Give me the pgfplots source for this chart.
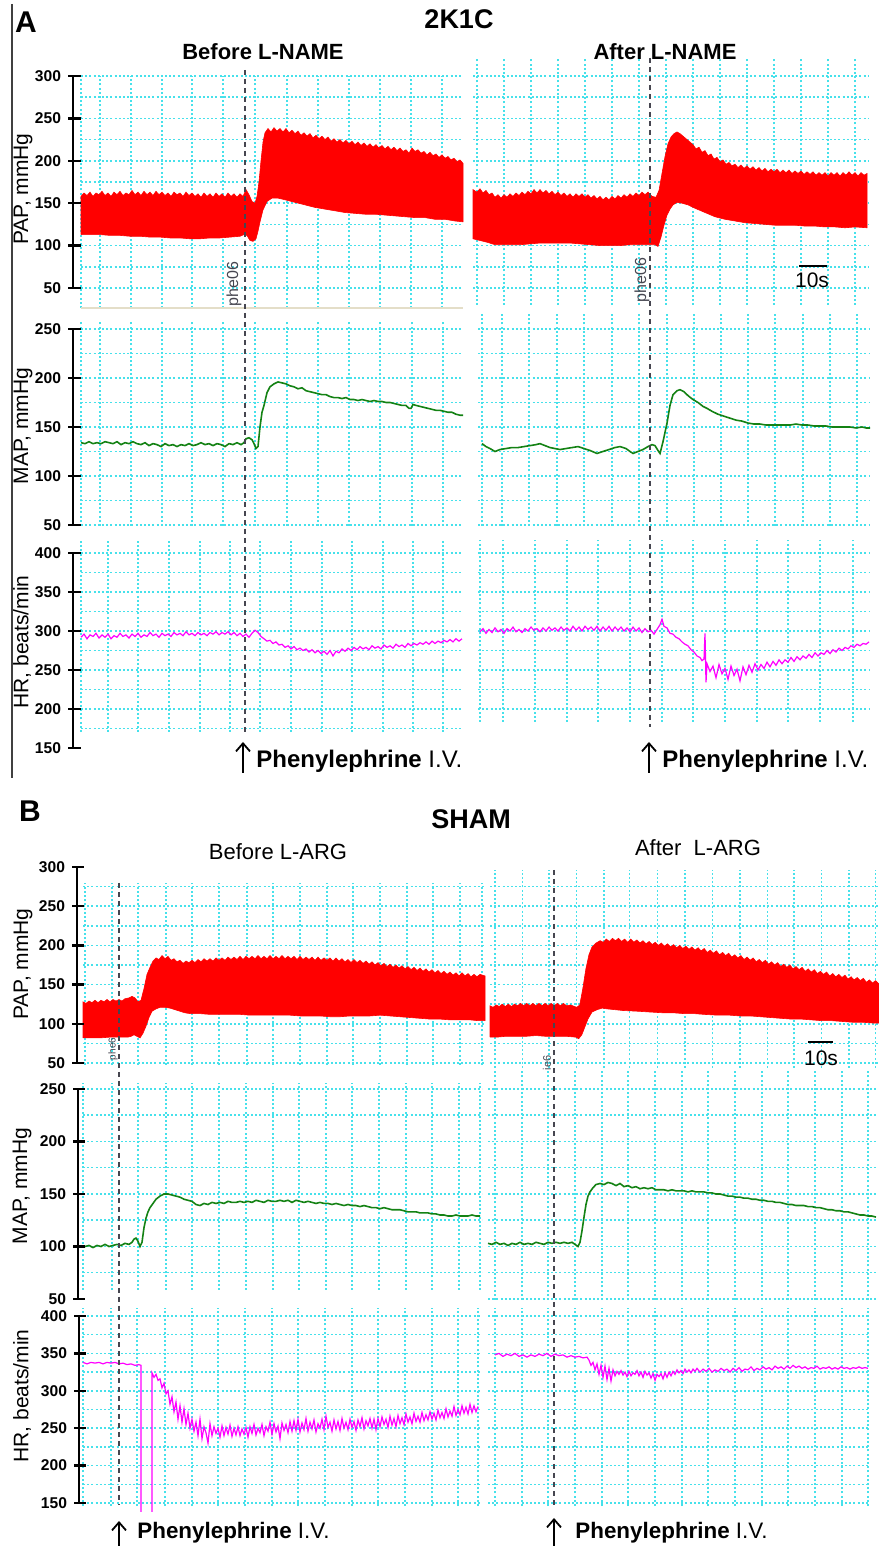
\documentclass[border=0pt]{standalone}
\usepackage{fontspec}
\setmainfont{Liberation Sans}
\usepackage{pgfplots}
\pgfplotsset{compat=1.18}
\usetikzlibrary{arrows.meta}
\definecolor{pred}{RGB}{255,0,0}
\definecolor{pgreen}{RGB}{20,130,20}
\definecolor{pmag}{RGB}{255,0,255}
\definecolor{gridc}{RGB}{70,225,235}
\definecolor{markc}{RGB}{70,70,80}
\definecolor{beige}{RGB}{228,222,200}
\pgfplotsset{
  gax/.style={scale only axis, anchor=south west, axis line style={draw=none},
    major tick length=0pt, xticklabels={}, yticklabels={},
    xmajorgrids, ymajorgrids,
    major grid style={gridc, line width=0.75pt, dash pattern=on 1pt off 1.1pt},
    clip=false},
  lax/.style={gax, axis y line*=left, axis x line=none,
    y axis line style={draw=black, line width=1.2pt, -, shorten <=-6pt},
    ytick style={draw=black, line width=1.2pt}, major tick length=4pt,
    yticklabel style={font=\fontsize{7.8}{8}\selectfont\bfseries},
    /pgf/number format/assume math mode=true},
}
\begin{document}
\begin{tikzpicture}
\useasboundingbox (0,0) rectangle (439pt,773pt);
% ---------- y axes (spine, ticks, labels) ----------
\begin{axis}[scale only axis, anchor=south west, at={(36.5pt,629pt)}, width=4pt, height=106pt,
  xmin=0, xmax=1, ymin=50, ymax=300, ytick={50,100,...,300}, xtick=\empty,
  axis x line=none, axis y line=left, y axis line style={-, line width=1.2pt, black},
  tick align=center, major tick length=5pt, ytick style={line width=1.2pt, black},
  yticklabel style={font=\fontsize{7.8}{8}\selectfont\bfseries},
  /pgf/number format/assume math mode=true]
\addplot[black, line width=1.2pt] coordinates {(0,50)(0,300)};
\end{axis}
\begin{axis}[scale only axis, anchor=south west, at={(36.5pt,510.5pt)}, width=4pt, height=98pt,
  xmin=0, xmax=1, ymin=50, ymax=250, ytick={50,100,...,250}, xtick=\empty,
  axis x line=none, axis y line=left, y axis line style={-, line width=1.2pt, black},
  tick align=center, major tick length=5pt, ytick style={line width=1.2pt, black},
  yticklabel style={font=\fontsize{7.8}{8}\selectfont\bfseries},
  /pgf/number format/assume math mode=true]
\addplot[black, line width=1.2pt] coordinates {(0,50)(0,250)};
\end{axis}
\begin{axis}[scale only axis, anchor=south west, at={(36.5pt,399pt)}, width=4pt, height=97.5pt,
  xmin=0, xmax=1, ymin=150, ymax=400, ytick={150,200,...,400}, xtick=\empty,
  axis x line=none, axis y line=left, y axis line style={-, line width=1.2pt, black},
  tick align=center, major tick length=5pt, ytick style={line width=1.2pt, black},
  yticklabel style={font=\fontsize{7.8}{8}\selectfont\bfseries},
  /pgf/number format/assume math mode=true]
\addplot[black, line width=1.2pt] coordinates {(0,150)(0,400)};
\end{axis}
\begin{axis}[scale only axis, anchor=south west, at={(38.5pt,241.5pt)}, width=4pt, height=98pt,
  xmin=0, xmax=1, ymin=50, ymax=300, ytick={50,100,...,300}, xtick=\empty,
  axis x line=none, axis y line=left, y axis line style={-, line width=1.2pt, black},
  tick align=center, major tick length=5pt, ytick style={line width=1.2pt, black},
  yticklabel style={font=\fontsize{7.8}{8}\selectfont\bfseries},
  /pgf/number format/assume math mode=true]
\addplot[black, line width=1.2pt] coordinates {(0,50)(0,300)};
\end{axis}
\begin{axis}[scale only axis, anchor=south west, at={(39pt,123.5pt)}, width=4pt, height=105pt,
  xmin=0, xmax=1, ymin=50, ymax=250, ytick={50,100,...,250}, xtick=\empty,
  axis x line=none, axis y line=left, y axis line style={-, line width=1.2pt, black},
  tick align=center, major tick length=5pt, ytick style={line width=1.2pt, black},
  yticklabel style={font=\fontsize{7.8}{8}\selectfont\bfseries},
  /pgf/number format/assume math mode=true]
\addplot[black, line width=1.2pt] coordinates {(0,50)(0,250)};
\end{axis}
\begin{axis}[scale only axis, anchor=south west, at={(39.5pt,21.5pt)}, width=4pt, height=93.5pt,
  xmin=0, xmax=1, ymin=150, ymax=400, ytick={150,200,...,400}, xtick=\empty,
  axis x line=none, axis y line=left, y axis line style={-, line width=1.2pt, black},
  tick align=center, major tick length=5pt, ytick style={line width=1.2pt, black},
  yticklabel style={font=\fontsize{7.8}{8}\selectfont\bfseries},
  /pgf/number format/assume math mode=true]
\addplot[black, line width=1.2pt] coordinates {(0,150)(0,400)};
\end{axis}
% ================= PANEL A =================
% A-left PAP
\begin{axis}[gax, at={(40.5pt,619pt)}, width=191pt, height=116pt,
  xmin=81, xmax=463, ymin=26.42, ymax=300,
  xtick={81,100,131,162,192,223,255,287,318,349,380,411,442}, ytick={50,75,...,300}]
\addplot[fill=pred, draw=pred, line width=0.3pt] coordinates {
(81,113)(81,158)(84,162)(87,159)(90,163)(93,158)(96,162)(99,160)(102,164)(105,159)(108,162)(111,158)(114,163)(117,160)(120,164)(123,159)(126,162)(129,160)(132,165)(135,160)(138,163)(141,159)(144,164)(147,160)(150,163)(153,159)(156,164)(159,160)(162,163)(165,159)(168,162)(171,158)(174,163)(177,160)(180,162)(183,158)(186,163)(189,159)(192,162)(195,158)(198,161)(201,157)(204,162)(207,158)(210,161)(213,157)(216,162)(219,158)(222,161)(225,157)(228,162)(231,158)(234,161)(237,157)(240,161)(243,158)(246,166)(249,160)(252,152)(255,150)(257,158)(259,175)(261,200)(263,222)(265,233)(268,238)(271,234)(274,239)(277,235)(280,238)(283,234)(286,238)(289,233)(292,236)(295,232)(298,235)(301,230)(304,233)(307,229)(310,232)(313,227)(316,230)(319,226)(322,229)(325,225)(328,228)(331,223)(334,226)(337,222)(340,225)(343,221)(346,224)(349,220)(352,223)(355,219)(358,222)(361,218)(364,221)(367,217)(370,220)(373,216)(376,219)(379,215)(382,218)(385,214)(388,217)(391,213)(394,216)(397,212)(400,215)(403,211)(406,213)(409,209)(412,215)(415,211)(418,213)(421,209)(424,211)(427,207)(430,210)(433,206)(436,208)(439,204)(442,207)(445,203)(448,205)(451,201)(454,203)(457,199)(460,201)(463,197)
(463,128)(455,129)(445,131)(435,131)(425,133)(415,133)(405,134)(395,135)(385,136)(375,137)(365,137)(355,138)(345,139)(335,141)(325,143)(315,145)(305,148)(295,151)(285,154)(278,156)(272,156)(267,152)(263,142)(260,128)(258,117)(256,108)(253,105)(250,106)(247,112)(244,113)(240,111)(230,110)(220,109)(210,109)(200,108)(190,108)(180,109)(170,109)(160,110)(150,110)(140,111)(130,111)(120,112)(110,112)(100,113)(90,113)(81,113)};
\end{axis}
% A-right PAP
\begin{axis}[gax, at={(236.5pt,620.5pt)}, width=197.5pt, height=123.5pt,
  xmin=473, xmax=868, ymin=29.95, ymax=321.23,
  xtick={477,504,531,558,585,612,639,666,693,720,747,774,801,828,855}, ytick={50,75,...,300}]
\addplot[fill=pred, draw=pred, line width=0.3pt] coordinates {
(473,108)(473,166)(477,163)(480,167)(483,162)(486,165)(489,160)(492,162)(495,157)(498,160)(501,156)(504,160)(507,157)(510,161)(513,158)(516,162)(519,159)(522,163)(525,160)(528,164)(531,161)(534,166)(537,162)(540,166)(543,162)(546,165)(549,161)(552,164)(555,160)(558,163)(561,159)(564,162)(567,158)(570,161)(573,157)(576,161)(579,158)(582,161)(585,157)(588,160)(591,156)(594,159)(597,155)(600,158)(603,154)(606,157)(609,154)(612,158)(615,155)(618,159)(621,156)(624,160)(627,157)(630,161)(633,158)(636,162)(639,159)(642,163)(645,160)(648,163)(652,158)(656,157)(659,165)(662,185)(665,205)(668,220)(671,228)(674,232)(677,234)(680,232)(684,228)(688,224)(693,219)(696,214)(699,216)(702,210)(705,212)(708,206)(711,208)(714,202)(717,204)(720,199)(723,201)(726,196)(729,198)(732,194)(735,196)(738,192)(741,195)(744,191)(747,194)(750,190)(753,193)(756,189)(759,192)(762,188)(765,191)(768,187)(771,190)(774,187)(777,190)(780,186)(783,189)(786,186)(789,189)(792,185)(795,188)(798,185)(801,188)(804,184)(807,187)(810,184)(813,187)(816,183)(819,186)(822,183)(825,186)(828,182)(831,186)(834,183)(837,186)(840,182)(843,186)(846,183)(849,187)(852,183)(855,186)(858,182)(861,186)(864,183)(867,185)
(867,121)(855,122)(845,121)(835,122)(825,122)(815,123)(805,123)(795,124)(785,124)(775,124)(765,125)(755,126)(745,127)(735,129)(725,131)(715,134)(705,139)(695,144)(688,148)(682,150)(677,151)(673,148)(670,143)(667,136)(664,124)(661,110)(658,99)(655,101)(650,101)(640,101)(630,101)(620,100)(610,100)(600,100)(590,101)(580,102)(570,103)(560,103)(550,103)(540,103)(530,102)(520,101)(510,101)(500,101)(495,101)(487,104)(480,106)(473,108)};
\end{axis}
% A-left MAP
\begin{axis}[gax, at={(40.5pt,510pt)}, width=191pt, height=102pt,
  xmin=81, xmax=463, ymin=48.98, ymax=257.14,
  xtick={81,100,131,162,192,223,255,287,318,349,380,412,443}, ytick={50,75,...,250}]
\addplot[pgreen, line width=0.8pt] coordinates {
(81,134)(85,133)(89,135)(93,133)(97,134)(101,133)(105,135)(109,134)(113,133)(117,135)(121,132)(125,134)(129,133)(133,135)(137,133)(141,132)(145,134)(149,131)(153,133)(157,132)(161,130)(165,133)(169,131)(173,132)(177,130)(181,132)(185,131)(189,133)(193,131)(197,132)(201,134)(205,132)(209,133)(213,131)(217,133)(221,132)(225,130)(229,133)(233,132)(237,134)(241,132)(244,134)(246,138)(249,139)(252,137)(254,133)(256,128)(258,130)(260,150)(262,165)(264,172)(267,185)(270,191)(274,194)(278,196)(282,195)(286,194)(290,192)(294,191)(298,189)(302,190)(306,187)(310,186)(314,185)(318,184)(322,183)(326,183)(330,181)(334,180)(338,180)(342,179)(346,180)(350,178)(354,178)(358,177)(362,178)(366,177)(370,176)(374,177)(378,176)(382,176)(386,175)(390,175)(394,174)(398,173)(402,172)(406,172)(409,169)(411,169)(413,173)(416,172)(420,171)(424,170)(428,169)(432,168)(436,167)(440,167)(444,166)(448,165)(452,165)(456,163)(460,162)(463,162)};
\end{axis}
% A-right MAP
\begin{axis}[gax, at={(239pt,510pt)}, width=196pt, height=106.5pt,
  xmin=478, xmax=870, ymin=48.98, ymax=266.33,
  xtick={482,502,529,557,584,612,639,667,694,721,748,775,803,830,857}, ytick={50,75,...,250}]
\addplot[pgreen, line width=0.8pt] coordinates {
(482,133)(486,130)(490,128)(495,125)(500,127)(506,128)(512,129)(518,129)(524,130)(530,131)(536,132)(540,133)(545,131)(550,129)(555,128)(560,127)(566,128)(572,129)(578,130)(584,128)(590,126)(597,123)(603,125)(609,127)(615,129)(620,130)(626,128)(630,125)(633,123)(638,125)(643,127)(648,130)(652,132)(655,131)(658,126)(660,123)(663,135)(667,154)(670,172)(673,183)(677,187)(680,188)(684,186)(688,182)(693,178)(698,175)(703,171)(707,169)(712,166)(718,163)(724,161)(730,159)(736,157)(742,156)(748,154)(754,153)(760,153)(766,152)(772,152)(778,152)(784,152)(790,152)(796,153)(802,152)(808,152)(814,151)(820,151)(826,151)(832,150)(838,150)(844,150)(850,150)(856,149)(862,150)(866,149)(870,149)};
\end{axis}
% A-left HR
\begin{axis}[gax, at={(40.5pt,407pt)}, width=191pt, height=96pt,
  xmin=81, xmax=463, ymin=170.51, ymax=416.67,
  xtick={81,108,138,169,200,230,260,291,322,352,383,413,443}, ytick={175,200,...,400}]
\addplot[pmag, line width=0.6pt] coordinates {
(81,292)(84,296)(87,290)(90,295)(93,293)(96,297)(99,291)(102,295)(105,292)(108,296)(111,290)(114,294)(117,292)(120,297)(123,293)(126,295)(129,291)(132,296)(135,293)(138,297)(141,292)(144,295)(147,293)(150,298)(153,294)(156,296)(159,292)(162,297)(165,294)(168,296)(171,293)(174,298)(177,295)(180,297)(183,294)(186,299)(189,295)(192,297)(195,294)(198,298)(201,295)(204,297)(207,294)(210,298)(213,296)(216,299)(219,295)(222,298)(225,296)(228,299)(231,295)(234,298)(237,294)(240,297)(243,293)(246,296)(249,292)(252,297)(255,301)(258,298)(261,293)(264,290)(267,287)(270,288)(273,284)(276,286)(279,282)(282,283)(285,279)(288,281)(291,277)(294,280)(297,276)(300,278)(303,275)(306,277)(309,273)(312,276)(315,272)(318,275)(321,271)(324,274)(327,270)(330,275)(333,268)(336,274)(339,272)(342,277)(345,274)(348,278)(351,275)(354,279)(357,276)(360,280)(363,277)(366,279)(369,276)(372,281)(375,278)(378,280)(381,277)(384,282)(387,279)(390,281)(393,278)(396,283)(399,280)(402,282)(405,279)(408,284)(411,281)(414,284)(417,282)(420,285)(423,283)(426,286)(429,283)(432,287)(435,284)(438,287)(441,285)(444,288)(447,286)(450,289)(453,286)(456,290)(459,287)(462,290)};
\end{axis}
% A-right HR
\begin{axis}[gax, at={(239pt,412pt)}, width=196pt, height=91pt,
  xmin=478, xmax=870, ymin=183.33, ymax=416.67,
  xtick={480,503,535,567,598,630,662,693,725,757,788,820,853}, ytick={200,225,...,400}]
\addplot[pmag, line width=0.6pt] coordinates {
(480,299)(483,303)(486,297)(489,302)(492,298)(495,304)(498,299)(501,302)(504,297)(507,303)(510,300)(513,305)(516,299)(519,302)(522,298)(525,303)(528,300)(531,305)(534,301)(537,303)(540,299)(543,304)(546,300)(549,305)(552,301)(555,304)(558,300)(561,305)(564,301)(567,304)(570,300)(573,306)(576,301)(579,305)(582,300)(585,306)(588,302)(591,305)(594,301)(597,306)(600,300)(603,305)(606,301)(609,306)(612,300)(615,305)(618,301)(621,305)(624,300)(627,304)(630,299)(633,305)(636,300)(639,304)(642,298)(645,303)(648,299)(651,301)(654,296)(657,302)(660,308)(662,315)(664,306)(667,304)(670,297)(673,296)(676,292)(679,290)(682,286)(685,283)(688,281)(691,276)(694,273)(697,268)(700,266)(702,262)(704,264)(705,297)(706,234)(707,258)(710,248)(713,255)(716,240)(719,257)(722,245)(725,252)(728,238)(731,255)(734,243)(737,251)(740,236)(743,254)(746,244)(749,256)(752,247)(755,258)(758,250)(761,257)(764,252)(767,260)(770,254)(773,261)(776,256)(779,263)(782,258)(785,263)(788,260)(791,266)(794,261)(797,267)(800,263)(803,268)(806,265)(809,270)(812,266)(815,272)(818,268)(821,272)(824,270)(827,275)(830,271)(833,276)(836,273)(839,278)(842,275)(845,279)(848,277)(851,281)(854,279)(857,283)(860,281)(863,284)(866,283)(869,286)};
\end{axis}
% ================= PANEL B =================
% B-left PAP
\begin{axis}[gax, at={(41.5pt,240.5pt)}, width=201pt, height=91pt,
  xmin=83, xmax=485, ymin=47.45, ymax=279.59,
  xtick={85,112,138,166,192,219,247,273,300,327,353,380,407,433,460,482}, ytick={50,75,...,275}]
\addplot[fill=pred, draw=pred, line width=0.3pt] coordinates {
(83,82)(83,128)(86,126)(89,129)(92,127)(95,130)(98,127)(101,130)(104,128)(107,131)(110,128)(113,131)(116,129)(119,131)(122,129)(125,132)(129,133)(132,135)(135,133)(138,128)(141,130)(144,145)(147,163)(150,172)(153,180)(156,184)(159,182)(162,187)(165,183)(168,186)(171,181)(174,183)(177,179)(180,181)(183,177)(186,180)(189,178)(192,181)(195,178)(198,182)(201,179)(204,183)(207,180)(210,183)(213,180)(216,184)(219,181)(222,184)(225,181)(228,185)(231,182)(234,185)(237,182)(240,186)(243,182)(246,186)(249,183)(252,186)(255,183)(258,187)(261,183)(264,186)(267,183)(270,187)(273,183)(276,186)(279,183)(282,187)(285,183)(288,186)(291,183)(294,186)(297,182)(300,186)(303,182)(306,185)(309,182)(312,185)(315,181)(318,185)(321,181)(324,184)(327,181)(330,184)(333,180)(336,184)(339,180)(342,183)(345,179)(348,182)(351,178)(354,182)(357,178)(360,181)(363,177)(366,180)(369,176)(372,179)(375,175)(378,178)(381,174)(384,177)(387,173)(390,176)(393,172)(396,175)(399,171)(402,174)(405,170)(408,173)(411,169)(414,172)(417,168)(420,171)(423,167)(426,170)(429,166)(432,169)(435,165)(438,168)(441,164)(444,167)(447,163)(450,166)(453,162)(456,165)(459,161)(462,165)(465,161)(468,164)(471,160)(474,163)(477,160)(480,163)(485,161)
(485,104)(478,104)(470,105)(460,105)(450,105)(440,106)(430,106)(420,107)(410,108)(400,109)(390,110)(380,111)(370,110)(360,110)(350,110)(340,109)(330,109)(320,110)(310,110)(300,110)(290,111)(280,111)(270,111)(260,111)(250,111)(240,112)(230,112)(220,112)(210,112)(200,113)(190,113)(185,114)(180,116)(175,118)(170,120)(165,121)(160,121)(156,119)(152,116)(149,108)(146,97)(143,88)(140,82)(137,84)(134,86)(131,84)(128,83)(120,83)(110,83)(100,82)(90,82)(83,82)};
\end{axis}
% B-right PAP
\begin{axis}[gax, at={(245pt,239pt)}, width=194pt, height=99pt,
  xmin=490, xmax=878, ymin=43.62, ymax=296.17,
  xtick={495,522,548,575,602,627,654,681,708,735,762,788,815,842,868}, ytick={50,75,...,275}]
\addplot[fill=pred, draw=pred, line width=0.3pt] coordinates {
(490,83)(490,123)(493,121)(496,124)(499,122)(502,125)(505,122)(508,125)(511,122)(514,125)(517,123)(520,126)(523,123)(526,126)(529,123)(532,126)(535,123)(538,126)(541,123)(544,126)(547,123)(550,126)(553,123)(556,126)(559,123)(562,126)(565,123)(569,124)(575,121)(578,124)(581,145)(584,170)(587,188)(590,198)(594,203)(598,206)(601,204)(604,208)(607,205)(610,209)(613,206)(616,209)(619,205)(622,208)(625,204)(628,208)(631,204)(634,207)(637,203)(640,206)(643,202)(646,205)(649,201)(652,204)(655,200)(658,203)(661,199)(664,202)(667,198)(670,201)(673,197)(676,200)(679,196)(682,199)(685,195)(688,198)(691,194)(694,197)(697,193)(700,196)(703,191)(706,194)(709,190)(712,193)(715,188)(718,191)(721,187)(724,190)(727,185)(730,188)(733,184)(736,187)(739,182)(742,185)(745,181)(748,184)(751,179)(754,182)(757,178)(760,181)(763,176)(766,179)(769,175)(772,178)(775,173)(778,176)(781,172)(784,175)(787,170)(790,173)(793,169)(796,172)(799,167)(802,170)(805,166)(808,169)(811,164)(814,167)(817,163)(820,166)(823,161)(826,164)(829,160)(832,163)(835,159)(838,162)(841,157)(844,160)(847,156)(850,159)(853,155)(856,158)(859,153)(862,156)(865,152)(868,155)(871,151)(875,153)
(875,101)(865,101)(855,102)(845,102)(835,103)(825,104)(815,104)(805,105)(795,106)(785,106)(775,107)(765,108)(755,109)(745,110)(735,110)(725,111)(713,111)(700,112)(690,113)(680,113)(670,114)(660,114)(647,115)(635,116)(620,117)(605,119)(600,120)(595,118)(590,115)(586,106)(583,96)(580,86)(577,81)(574,83)(565,84)(555,84)(545,84)(535,85)(525,84)(515,84)(505,84)(497,83)(490,83)};
\end{axis}
% B-left MAP
\begin{axis}[gax, at={(41.5pt,128pt)}, width=199.5pt, height=103.5pt,
  xmin=83, xmax=482, ymin=58.57, ymax=255.71,
  xtick={83,112,138,166,192,219,246,273,299,326,352,379,406,432,459,480}, ytick={75,100,...,250}]
\addplot[pgreen, line width=0.8pt] coordinates {
(85,100)(89,101)(93,99)(97,101)(101,100)(105,102)(109,100)(113,101)(117,102)(121,101)(125,103)(129,102)(132,104)(134,107)(136,108)(138,105)(140,100)(142,104)(144,118)(146,127)(148,133)(150,137)(153,141)(156,145)(160,148)(164,150)(168,150)(172,149)(176,148)(180,147)(184,145)(188,144)(192,143)(196,140)(200,139)(204,141)(208,140)(212,142)(216,141)(220,142)(224,141)(228,143)(232,142)(236,142)(240,143)(244,142)(248,143)(252,142)(256,144)(260,143)(264,142)(268,144)(272,143)(276,143)(280,144)(284,143)(288,144)(292,142)(296,144)(300,143)(304,142)(308,143)(312,142)(316,141)(320,142)(324,141)(328,141)(332,140)(336,141)(340,140)(344,139)(348,140)(352,139)(356,139)(360,138)(364,139)(368,138)(372,137)(376,137)(380,136)(384,137)(388,136)(392,135)(396,135)(400,135)(404,134)(408,133)(412,133)(416,133)(420,132)(424,132)(428,132)(432,131)(436,131)(440,130)(444,130)(448,129)(452,129)(456,130)(460,129)(464,129)(468,129)(472,130)(476,129)(480,129)};
\end{axis}
% B-right MAP
\begin{axis}[gax, at={(244pt,123pt)}, width=195pt, height=115pt,
  xmin=488, xmax=878, ymin=49.05, ymax=268.1,
  xtick={495,522,548,575,602,628,655,682,708,735,762,788,815,842,868}, ytick={50,75,...,250}]
\addplot[pgreen, line width=0.8pt] coordinates {
(488,103)(492,102)(496,104)(500,102)(504,103)(508,101)(512,103)(516,102)(520,104)(524,102)(528,103)(532,102)(536,104)(540,103)(544,102)(548,104)(552,103)(556,104)(560,103)(564,104)(568,103)(572,104)(575,102)(578,100)(580,104)(582,115)(584,128)(586,140)(588,148)(590,152)(593,156)(596,159)(600,160)(604,159)(608,161)(612,160)(616,158)(620,160)(624,157)(628,158)(632,156)(636,157)(640,155)(644,156)(648,155)(652,156)(656,154)(660,154)(664,154)(668,153)(672,154)(676,153)(680,153)(684,153)(688,152)(692,153)(696,152)(700,152)(704,152)(708,151)(712,151)(716,150)(720,150)(724,149)(728,148)(732,148)(736,147)(740,147)(744,146)(748,146)(752,145)(756,145)(760,144)(764,144)(768,143)(772,143)(776,142)(780,142)(784,141)(788,140)(792,140)(796,139)(800,139)(804,139)(808,138)(812,138)(816,137)(820,137)(824,136)(828,135)(832,135)(836,134)(840,134)(844,133)(848,133)(852,132)(856,131)(860,130)(864,130)(868,129)(872,129)(876,128)};
\end{axis}
% B-left HR
\begin{axis}[gax, at={(41.5pt,20pt)}, width=198.5pt, height=99pt,
  xmin=83, xmax=480, ymin=146, ymax=410.7,
  xtick={83,111,137,165,192,218,245,272,298,325,352,378,405,432,458,478}, ytick={150,175,...,400}]
\addplot[pmag, line width=0.6pt] coordinates {
(83,338)(87,336)(91,338)(95,337)(99,338)(103,336)(107,338)(111,337)(115,338)(119,336)(123,337)(127,335)(131,336)(135,334)(139,335)(141,334)(141,138)};
\addplot[pmag, line width=0.6pt] coordinates {
(152,138)(152,324)(154,318)(156,322)(158,314)(160,316)(162,304)(164,310)(166,296)(168,300)(170,282)(172,292)(174,272)(176,285)(178,262)(180,280)(182,258)(184,276)(186,255)(188,270)(190,250)(192,262)(194,246)(196,258)(198,240)(200,262)(202,236)(204,252)(206,244)(208,230)(210,256)(212,240)(214,252)(216,243)(218,250)(220,238)(222,253)(224,240)(226,251)(228,242)(230,254)(232,239)(234,250)(236,241)(238,252)(240,240)(242,249)(244,242)(246,251)(248,238)(250,252)(252,243)(254,255)(256,241)(258,250)(260,244)(262,255)(264,240)(266,252)(268,246)(270,258)(272,242)(274,256)(276,245)(278,253)(280,236)(282,257)(284,247)(286,255)(288,244)(290,259)(292,246)(294,260)(296,247)(298,262)(300,245)(302,257)(304,248)(306,263)(308,246)(310,258)(312,249)(314,261)(316,245)(318,256)(320,250)(322,262)(324,248)(326,266)(328,251)(330,258)(332,246)(334,261)(336,249)(338,259)(340,247)(342,263)(344,250)(346,258)(348,248)(350,262)(352,251)(354,259)(356,247)(358,261)(360,252)(362,264)(364,249)(366,260)(368,253)(370,263)(372,250)(374,262)(376,248)(378,263)(380,252)(382,265)(384,255)(386,262)(388,251)(390,266)(392,254)(394,263)(396,252)(398,267)(400,256)(402,264)(404,255)(406,269)(408,258)(410,265)(412,256)(414,270)(416,259)(418,266)(420,258)(422,271)(424,260)(426,268)(428,261)(430,272)(432,262)(434,270)(436,261)(438,274)(440,264)(442,271)(444,263)(446,276)(448,265)(450,273)(452,266)(454,279)(456,267)(458,275)(460,268)(462,280)(464,270)(466,278)(468,269)(470,282)(472,271)(474,280)(476,272)(478,279)};
\end{axis}
% B-right HR
\begin{axis}[gax, at={(244pt,20pt)}, width=191pt, height=99pt,
  xmin=488, xmax=870, ymin=146, ymax=410.7,
  xtick={495,522,548,575,602,628,655,682,708,735,762,788,815,842,868}, ytick={150,175,...,400}]
\addplot[pmag, line width=0.6pt] coordinates {
(495,348)(499,350)(503,346)(507,349)(511,347)(515,350)(519,346)(523,348)(527,345)(531,348)(535,346)(539,349)(543,347)(547,350)(551,346)(555,349)(559,347)(563,348)(567,345)(571,347)(575,345)(579,346)(583,344)(587,345)(589,341)(591,334)(593,338)(595,328)(597,336)(599,322)(601,334)(603,318)(605,333)(607,315)(609,330)(611,313)(613,328)(615,320)(617,326)(619,322)(621,327)(623,321)(625,325)(627,319)(629,326)(631,320)(633,324)(635,322)(637,327)(639,320)(641,325)(643,318)(645,326)(647,321)(649,324)(651,317)(653,323)(655,314)(657,322)(659,319)(661,323)(663,316)(665,324)(667,318)(669,325)(671,320)(673,326)(675,322)(677,328)(679,324)(681,327)(683,323)(685,329)(687,325)(689,328)(691,324)(693,329)(695,326)(697,330)(700,325)(703,329)(706,326)(709,330)(712,325)(715,328)(718,326)(721,330)(724,327)(727,329)(730,325)(733,330)(736,327)(739,331)(742,326)(745,329)(748,328)(751,332)(754,327)(757,330)(760,328)(763,332)(766,329)(769,331)(772,328)(775,333)(778,330)(781,332)(784,329)(787,333)(790,330)(793,334)(796,331)(799,333)(802,330)(805,332)(808,329)(811,331)(814,330)(817,333)(820,329)(823,331)(826,330)(829,332)(832,329)(835,331)(838,329)(841,332)(844,330)(847,331)(850,329)(853,331)(856,330)(859,332)(862,330)(865,331)(868,330)};
\end{axis}
% ================= annotations (pixel coordinates) =================
\begin{scope}[shift={(0pt,773pt)}, x=0.5pt, y=-0.5pt]
\draw[black!75, line width=0.8pt] (12,4) -- (12,778);
\draw[beige, line width=1pt] (81,308) -- (463,308);
% y-axis spines with ticks
\begin{scope}[line width=1.2pt, draw=black]
\draw (73,76) -- (73,288);
\foreach \v in {76,118.4,160.8,203.2,245.6,288} {\draw (69,\v) -- (81,\v);}
\draw (73,329) -- (73,525);
\foreach \v in {329,378,427,476,525} {\draw (69,\v) -- (81,\v);}
\draw (73,553) -- (73,748);
\foreach \v in {553,592,631,670,709,748} {\draw (69,\v) -- (81,\v);}
\draw (77,867) -- (77,1063);
\foreach \v in {867,906.2,945.4,984.6,1023.8,1063} {\draw (73,\v) -- (84,\v);}
\draw (78,1089) -- (78,1299);
\foreach \v in {1089,1141.5,1194,1246.5,1299} {\draw (74,\v) -- (85,\v);}
\draw (79,1316) -- (79,1503);
\foreach \v in {1316,1353.4,1390.8,1428.2,1465.6,1503} {\draw (75,\v) -- (86,\v);}
\end{scope}
% marker lines
\draw[markc, line width=0.9pt, dash pattern=on 2.5pt off 2pt] (245,70) -- (245,735);
\draw[markc, line width=0.9pt, dash pattern=on 2.5pt off 2pt] (650,58) -- (650,727);
\draw[markc, line width=0.9pt, dash pattern=on 2.5pt off 2pt] (119,883) -- (119,1505);
\draw[markc, line width=0.9pt, dash pattern=on 2.5pt off 2pt] (554,870) -- (554,1507);
\node[rotate=90, text=markc, font=\fontsize{8}{9}\selectfont] at (234,284) {phe06};
\node[rotate=90, text=markc, font=\fontsize{8}{9}\selectfont] at (642,280) {phe06};
\node[rotate=90, text=markc, font=\fontsize{5}{6}\selectfont] at (113,1049) {phe6};
\node[rotate=90, text=markc, font=\fontsize{5.5}{6}\selectfont] at (547,1063) {ie6};
% scale bars
\draw[line width=1pt] (799,266) -- (827,266);
\node[font=\fontsize{10.5}{12}\selectfont] at (812,280) {10s};
\draw[line width=1pt] (808,1042) -- (833,1042);
\node[font=\fontsize{10.5}{12}\selectfont] at (821,1058) {10s};
% titles
\node[font=\fontsize{15}{17}\selectfont\bfseries] at (26,22) {A};
\node[font=\fontsize{13.5}{15}\selectfont\bfseries] at (459,19) {2K1C};
\node[font=\fontsize{11}{13}\selectfont\bfseries] at (263,52) {Before L-NAME};
\node[font=\fontsize{11}{13}\selectfont\bfseries] at (665,52) {After L-NAME};
\node[font=\fontsize{15}{17}\selectfont\bfseries] at (30,811) {B};
\node[font=\fontsize{13.5}{15}\selectfont\bfseries] at (471,819) {SHAM};
\node[font=\fontsize{11}{13}\selectfont] at (278,852) {Before L-ARG};
\node[font=\fontsize{11}{13}\selectfont] at (698,848) {After\ \ L-ARG};
% y labels
\node[rotate=90, font=\fontsize{10.5}{12}\selectfont] at (23,189) {PAP, mmHg};
\node[rotate=90, font=\fontsize{10.5}{12}\selectfont] at (23,426) {MAP, mmHg};
\node[rotate=90, font=\fontsize{10.5}{12}\selectfont] at (22,642) {HR, beats/min};
\node[rotate=90, font=\fontsize{10.5}{12}\selectfont] at (23,964) {PAP, mmHg};
\node[rotate=90, font=\fontsize{10.5}{12}\selectfont] at (22,1186) {MAP, mmHg};
\node[rotate=90, font=\fontsize{10.5}{12}\selectfont] at (22,1396) {HR, beats/min};
% phenylephrine arrows
\draw[-{Straight Barb[length=4pt,width=7pt]}, line width=0.9pt] (243,773) -- (243,742);
\draw[-{Straight Barb[length=4pt,width=7pt]}, line width=0.9pt] (649,773) -- (649,742);
\draw[-{Straight Barb[length=4pt,width=7pt]}, line width=0.9pt] (119,1546) -- (119,1521);
\draw[-{Straight Barb[length=4pt,width=7pt]}, line width=0.9pt] (554,1546) -- (554,1518);
\node[anchor=base west, inner sep=0pt, font=\fontsize{12}{14}\selectfont] at (256,768) {\textbf{Phenylephrine} I.V.};
\node[anchor=base west, inner sep=0pt, font=\fontsize{12}{14}\selectfont] at (662,768) {\textbf{Phenylephrine} I.V.};
\node[anchor=base west, inner sep=0pt, font=\fontsize{11.2}{13}\selectfont] at (137,1538) {\textbf{Phenylephrine} I.V.};
\node[anchor=base west, inner sep=0pt, font=\fontsize{11.2}{13}\selectfont] at (575,1538) {\textbf{Phenylephrine} I.V.};
\end{scope}
\end{tikzpicture}
\end{document}
